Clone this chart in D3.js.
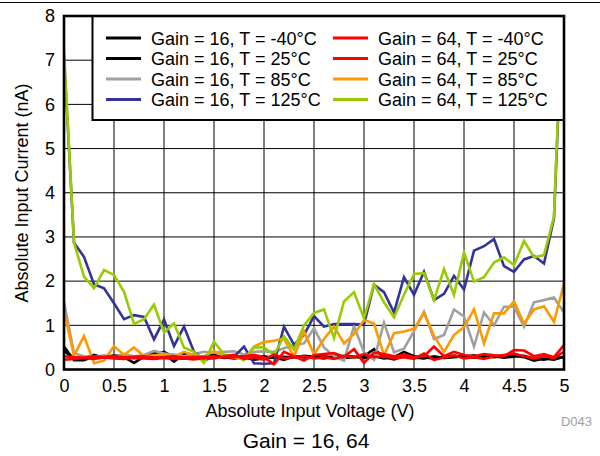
<!DOCTYPE html>
<html><head><meta charset="utf-8">
<script src="https://cdn.jsdelivr.net/npm/d3@7"></script>
<style>body{margin:0;background:#fff}svg{display:block;font-family:"Liberation Sans",Arial,sans-serif}</style>
</head><body><svg id="c" width="600" height="456"></svg>
<script>
const voltages = d3.range(0, 51).map(i => +(i / 10).toFixed(1));
const xTicks = [0, 0.5, 1, 1.5, 2, 2.5, 3, 3.5, 4, 4.5, 5];
const xTickLabels = ["0", "0.5", "1", "1.5", "2", "2.5", "3", "3.5", "4", "4.5", "5"];
const yTicks = [0, 1, 2, 3, 4, 5, 6, 7, 8];
const seriesNames = ["Gain = 16, T = -40°C", "Gain = 16, T = 25°C", "Gain = 16, T = 85°C", "Gain = 16, T = 125°C",
  "Gain = 64, T = -40°C", "Gain = 64, T = 25°C", "Gain = 64, T = 85°C", "Gain = 64, T = 125°C"];
const seriesColors = ["#000000", "#000000", "#a0a0a0", "#333399", "#ff0000", "#ff0000", "#ff9900", "#99cc00"];

const g16_m40 = [0.52,0.21,0.21,0.30,0.28,0.30,0.28,0.15,0.29,0.40,0.35,0.18,0.35,0.30,0.27,0.30,0.28,0.25,0.28,0.22,0.25,0.28,0.22,0.30,0.27,0.28,0.25,0.30,0.26,0.28,0.30,0.46,0.28,0.23,0.30,0.27,0.25,0.30,0.26,0.28,0.30,0.27,0.30,0.28,0.30,0.32,0.28,0.20,0.25,0.22,0.29];
const g16_25 = [0.42,0.25,0.24,0.33,0.26,0.32,0.30,0.26,0.32,0.34,0.40,0.28,0.30,0.27,0.30,0.33,0.26,0.28,0.30,0.27,0.30,0.26,0.29,0.27,0.31,0.29,0.30,0.27,0.31,0.29,0.26,0.30,0.25,0.28,0.40,0.30,0.27,0.25,0.29,0.31,0.28,0.32,0.26,0.30,0.27,0.29,0.31,0.25,0.22,0.27,0.27];
const g16_85 = [1.53,0.37,0.30,0.28,0.32,0.30,0.35,0.30,0.33,0.42,0.36,0.34,0.30,0.35,0.40,0.38,0.40,0.41,0.34,0.40,0.41,0.40,0.48,0.55,0.59,0.93,0.50,0.30,0.20,0.98,0.39,0.22,1.06,0.39,0.47,0.87,1.31,0.69,0.78,1.36,1.20,0.52,1.29,1.00,1.42,1.42,0.97,1.52,1.57,1.63,1.29];
const g16_125 = [7.1,2.87,2.55,1.93,1.84,1.50,1.14,1.23,1.19,0.68,1.13,0.53,0.97,0.40,0.21,0.28,0.29,0.29,0.52,0.14,0.13,0.14,0.97,0.56,0.78,1.21,0.97,1.03,1.03,1.03,1.02,1.92,1.75,1.29,2.09,1.69,2.21,1.57,1.71,2.12,1.81,2.69,2.79,2.95,2.34,2.21,2.49,2.57,2.40,3.42,9.0];
const g64_m40 = [0.30,0.28,0.27,0.30,0.28,0.31,0.27,0.29,0.30,0.27,0.28,0.30,0.27,0.29,0.28,0.30,0.27,0.28,0.30,0.33,0.28,0.12,0.40,0.30,0.20,0.33,0.35,0.37,0.29,0.46,0.15,0.38,0.35,0.30,0.33,0.28,0.30,0.52,0.30,0.40,0.33,0.30,0.35,0.32,0.30,0.44,0.43,0.30,0.35,0.28,0.55];
const g64_25 = [0.22,0.24,0.26,0.24,0.27,0.25,0.24,0.26,0.25,0.24,0.26,0.24,0.25,0.23,0.26,0.25,0.30,0.33,0.24,0.28,0.22,0.34,0.25,0.28,0.30,0.25,0.28,0.24,0.30,0.28,0.35,0.28,0.30,0.25,0.28,0.24,0.36,0.22,0.27,0.32,0.25,0.28,0.24,0.30,0.33,0.36,0.30,0.25,0.30,0.26,0.40];
const g64_85 = [1.33,0.31,0.76,0.14,0.20,0.53,0.33,0.50,0.30,0.32,0.34,0.29,0.40,0.33,0.29,0.42,0.30,0.27,0.23,0.52,0.62,0.65,0.70,0.29,0.86,0.34,0.69,0.97,0.59,0.80,1.12,1.04,0.32,0.82,0.86,0.92,1.28,0.76,0.40,0.78,0.96,1.36,0.59,1.27,1.27,1.54,1.04,1.36,1.43,1.08,1.94];
const g64_125 = [7.2,2.87,2.10,1.84,2.25,2.14,1.76,1.03,1.14,1.47,0.84,1.04,0.50,0.40,0.15,0.63,0.34,0.31,0.21,0.50,0.50,0.33,0.75,0.45,1.00,1.28,1.36,0.71,1.54,1.75,1.16,1.93,1.52,1.18,1.69,2.16,2.18,1.57,2.27,1.69,2.65,1.99,2.09,2.42,2.54,2.36,2.91,2.54,2.59,3.46,9.3];

const seriesValues = [g16_m40, g16_25, g16_85, g16_125, g64_m40, g64_25, g64_85, g64_125];
const drawOrder = [0, 1, 2, 3, 6, 7, 4, 5];

const svg = d3.select("#c");
const L = 64, T = 16, R = 564, B = 369.5;
const x = d3.scaleLinear().domain([0, 5]).range([L, R]);
const y = d3.scaleLinear().domain([0, 8]).range([B, T]);

svg.append("line").attr("x1", 0).attr("x2", 600).attr("y1", 2.5).attr("y2", 2.5).attr("stroke", "#000").attr("stroke-width", 1.2);

// grid
svg.append("g").selectAll("line").data(xTicks.slice(1, -1)).join("line")
  .attr("x1", d => x(d)).attr("x2", d => x(d)).attr("y1", T).attr("y2", B)
  .attr("stroke", "#000").attr("stroke-width", 1);
svg.append("g").selectAll("line").data(yTicks.slice(1, -1)).join("line")
  .attr("x1", L).attr("x2", R).attr("y1", d => y(d)).attr("y2", d => y(d))
  .attr("stroke", "#000").attr("stroke-width", 1);

svg.append("clipPath").attr("id", "pc").append("rect").attr("x", L).attr("y", T).attr("width", R - L).attr("height", B - T);

const line = d3.line().x((d, i) => x(voltages[i])).y(d => y(d));
const lg = svg.append("g").attr("clip-path", "url(#pc)");
drawOrder.forEach(k => {
  lg.append("path").datum(seriesValues[k]).attr("d", line)
    .attr("fill", "none").attr("stroke", seriesColors[k]).attr("stroke-width", 2.6)
    .attr("stroke-linejoin", "miter");
});

// legend
const leg = svg.append("g");
leg.append("rect").attr("x", 92.5).attr("y", T).attr("width", R - 92.5).attr("height", 120 - T)
  .attr("fill", "#fff").attr("stroke", "#000").attr("stroke-width", 2);
seriesNames.forEach((n, i) => {
  const col = Math.floor(i / 4), row = i % 4;
  const lx = col === 0 ? 106 : 333;
  const ly = 38 + row * 20.5;
  leg.append("line").attr("x1", lx).attr("x2", lx + 35).attr("y1", ly).attr("y2", ly)
    .attr("stroke", seriesColors[i]).attr("stroke-width", 3);
  leg.append("text").attr("x", lx + 45).attr("y", ly + 6.5).attr("font-size", 18).attr("fill", "#000").text(n);
});

// frame
svg.append("rect").attr("x", L).attr("y", T).attr("width", R - L).attr("height", B - T)
  .attr("fill", "none").attr("stroke", "#000").attr("stroke-width", 2.6);

// axes labels
const xa = d3.axisBottom(x).tickValues(xTicks).tickFormat((d, i) => xTickLabels[i]).tickSize(0).tickPadding(10);
const gx = svg.append("g").attr("transform", `translate(0,${B})`).call(xa);
gx.select(".domain").remove();
gx.selectAll("text").attr("font-size", 18).attr("fill", "#000").attr("font-family", "Liberation Sans, Arial, sans-serif");

const ya = d3.axisLeft(y).tickValues(yTicks).tickFormat(d3.format("d")).tickSize(0).tickPadding(9);
const gy = svg.append("g").attr("transform", `translate(${L},0)`).call(ya);
gy.select(".domain").remove();
gy.selectAll("text").attr("font-size", 18).attr("fill", "#000").attr("font-family", "Liberation Sans, Arial, sans-serif");

svg.append("text").attr("x", 310).attr("y", 417).attr("text-anchor", "middle").attr("font-size", 18).text("Absolute Input Voltage (V)");
svg.append("text").attr("transform", "translate(28,193) rotate(-90)").attr("text-anchor", "middle").attr("font-size", 18).text("Absolute Input Current (nA)");
svg.append("text").attr("x", 592).attr("y", 426).attr("text-anchor", "end").attr("font-size", 13).attr("fill", "#a0a0a0").text("D043");
svg.append("text").attr("x", 306).attr("y", 448).attr("text-anchor", "middle").attr("font-size", 21).text("Gain = 16, 64");
</script></body></html>
